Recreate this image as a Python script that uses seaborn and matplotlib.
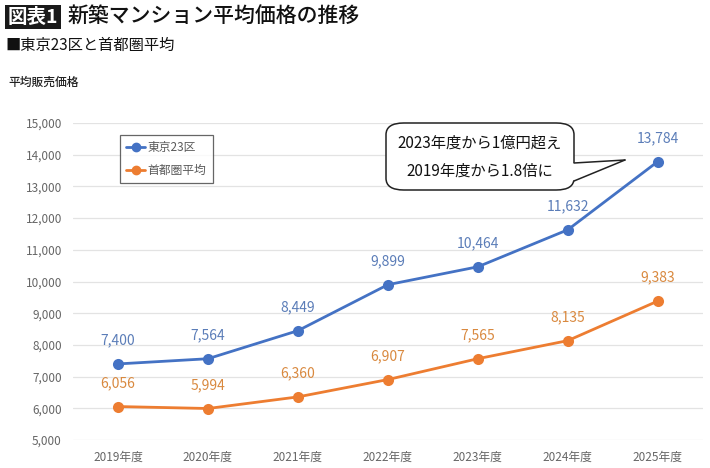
import matplotlib
matplotlib.use('Agg')
import matplotlib.pyplot as plt
import seaborn as sns
import pandas as pd
from matplotlib.patches import FancyBboxPatch, Polygon
from matplotlib.lines import Line2D
import matplotlib.ticker as ticker

# Data
years = ['2019年度', '2020年度', '2021年度', '2022年度', '2023年度', '2024年度', '2025年度']
tokyo23 = [7400, 7564, 8449, 9899, 10464, 11632, 13784]
shutoken = [6056, 5994, 6360, 6907, 7565, 8135, 9383]
series_names = ['東京23区', '首都圏平均']

blue = '#4472C4'
orange = '#ED7D31'
blue_txt = '#5B7DB8'
orange_txt = '#D9893F'

df = pd.DataFrame({'年度': years * 2,
                   '価格': tokyo23 + shutoken,
                   '系列': [series_names[0]] * len(years) + [series_names[1]] * len(years)})

sns.set_theme(style='white')
plt.rcParams['font.family'] = ['Noto Sans CJK JP', 'DejaVu Sans']

fig = plt.figure(figsize=(7.1, 4.68), dpi=100)
ax = fig.add_axes([0.1028, 0.0598, 0.887, 0.6774])

sns.lineplot(data=df, x='年度', y='価格', hue='系列', palette=[blue, orange],
             marker='o', markersize=8, markeredgewidth=0, linewidth=2, sort=False,
             legend=False, ax=ax)

# data labels
for vals, col in [(tokyo23, blue_txt), (shutoken, orange_txt)]:
    for i, v in enumerate(vals):
        ax.annotate(f'{v:,}', (i, v), xytext=(0, 12), textcoords='offset points',
                    ha='center', va='bottom', fontsize=10, color=col)

ax.set_xlim(-0.5, len(years) - 0.5)
ax.set_ylim(5000, 15000)
ax.yaxis.set_major_locator(ticker.MultipleLocator(1000))
ax.yaxis.set_major_formatter(ticker.FuncFormatter(lambda v, p: f'{int(v):,}'))
ax.grid(axis='y', color='#E3E3E3', linewidth=0.9)
ax.set_axisbelow(True)
for s in ax.spines.values():
    s.set_visible(False)
ax.tick_params(axis='both', length=0, labelsize=8.5, colors='#666666', pad=8)
ax.set_xlabel('')
ax.set_ylabel('')

# legend
handles = [Line2D([0], [0], color=blue, marker='o', markersize=6, linewidth=2),
           Line2D([0], [0], color=orange, marker='o', markersize=6, linewidth=2)]
leg = fig.legend(handles, series_names, loc='upper left', bbox_to_anchor=(120 / 710, 1 - 135 / 468),
                 fontsize=8.5, frameon=True, fancybox=False, edgecolor='#404040',
                 handlelength=1.6, handletextpad=0.2, labelspacing=0.8, borderpad=0.55,
                 borderaxespad=0, labelcolor='#595959')
leg.get_frame().set_linewidth(0.9)

# titles
fig.text(8 / 710, 1 - 17 / 468, '図表1', fontsize=14, fontweight='bold', color='white',
         va='center', ha='left',
         bbox=dict(boxstyle='square,pad=0.15', facecolor='#1a1a1a', edgecolor='none'))
fig.text(68 / 710, 1 - 17 / 468, '新築マンション平均価格の推移', fontsize=15, fontweight='medium',
         color='#111111', va='center', ha='left')
fig.text(5 / 710, 1 - 45 / 468, '■東京23区と首都圏平均', fontsize=11, color='#111111',
         va='center', ha='left')
fig.text(8 / 710, 1 - 82 / 468, '平均販売価格', fontsize=8.5, fontweight='medium',
         color='#222222', va='center', ha='left')

# callout bubble
W, H = 710, 468
bx0, by0, bx1, by1 = 386, 123, 574, 190
box = FancyBboxPatch((bx0 / W, 1 - by1 / H), (bx1 - bx0) / W, (by1 - by0) / H,
                     boxstyle='round,pad=0,rounding_size=0.025', transform=fig.transFigure,
                     facecolor='white', edgecolor='#222222', linewidth=1.1, zorder=5)
fig.patches.append(box)
tail_pts = [(574, 163), (625, 160), (574, 181)]
tail = Polygon([(x / W, 1 - y / H) for x, y in [(572, 163), (625, 160), (572, 181)]],
               closed=True, transform=fig.transFigure, facecolor='white', edgecolor='none', zorder=6)
fig.patches.append(tail)
for (x0, y0), (x1, y1) in [(tail_pts[0], tail_pts[1]), (tail_pts[1], tail_pts[2])]:
    fig.lines.append(Line2D([x0 / W, x1 / W], [1 - y0 / H, 1 - y1 / H], transform=fig.transFigure,
                            color='#222222', linewidth=1.1, zorder=7))
fig.text((bx0 + bx1) / 2 / W, 1 - 143 / H, '2023年度から1億円超え', fontsize=11,
         ha='center', va='center', color='#111111', zorder=8)
fig.text((bx0 + bx1) / 2 / W, 1 - 171 / H, '2019年度から1.8倍に', fontsize=11,
         ha='center', va='center', color='#111111', zorder=8)

fig.savefig('out.png', dpi=100)
